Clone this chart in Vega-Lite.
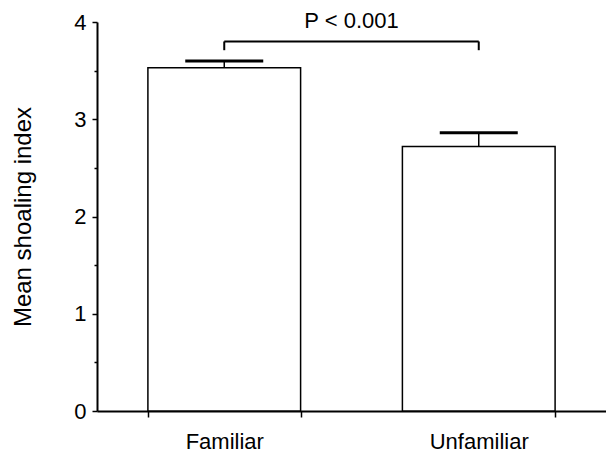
{
  "$schema": "https://vega.github.io/schema/vega-lite/v6.json",
  "width": 509,
  "height": 389,
  "autosize": {"type": "none"},
  "padding": {"left": 97, "top": 22, "right": 0, "bottom": 44},
  "background": "white",
  "config": {
    "view": {"stroke": null},
    "font": "Liberation Sans",
    "axis": {"grid": false, "domainColor": "black", "tickColor": "black", "labelColor": "black", "titleColor": "black", "labelFont": "Liberation Sans", "titleFont": "Liberation Sans"}
  },
  "title": {"text": "P < 0.001", "fontSize": 22, "fontWeight": "normal", "font": "Liberation Sans", "color": "black", "offset": -22, "anchor": "middle", "frame": "group"},
  "datasets": {
    "bars": [
      {"group": "Familiar", "mean": 3.53, "upper": 3.60},
      {"group": "Unfamiliar", "mean": 2.72, "upper": 2.86}
    ],
    "bracket": [
      {"from": "Familiar", "to": "Unfamiliar", "top": 3.80}
    ],
    "bracketEnds": [
      {"group": "Familiar", "low": 3.71, "top": 3.80},
      {"group": "Unfamiliar", "low": 3.71, "top": 3.80}
    ]
  },
  "layer": [
    {
      "data": {"name": "bars"},
      "mark": {"type": "bar", "fill": "white", "stroke": "black", "strokeWidth": 1.5},
      "encoding": {
        "x": {"field": "group", "type": "nominal", "scale": {"paddingInner": 0.4, "paddingOuter": 0.2},
              "axis": {"title": null, "tickBand": "extent", "tickSize": 6, "tickWidth": 1.5, "labelPadding": 14, "labelAngle": 0, "labelFontSize": 22, "domainWidth": 2, "orient": "bottom"}},
        "y": {"field": "mean", "type": "quantitative", "scale": {"domain": [0, 4], "nice": false},
              "axis": {"title": "Mean shoaling index", "titleFontSize": 24, "titleFontWeight": "normal", "titlePadding": 38, "values": [0, 1, 2, 3, 4], "tickSize": 5, "tickWidth": 1.5, "labelFontSize": 22, "labelPadding": 6, "domainWidth": 2, "orient": "left"}}
      }
    },
    {
      "data": {"name": "bars"},
      "mark": {"type": "rule", "color": "black", "strokeWidth": 1.5},
      "encoding": {
        "x": {"field": "group", "type": "nominal"},
        "y": {"field": "mean", "type": "quantitative",
              "axis": {"values": [0.5, 1.5, 2.5, 3.5], "labels": false, "domain": false, "tickSize": 3, "tickWidth": 1.5, "title": null, "orient": "left"}},
        "y2": {"field": "upper"}
      }
    },
    {
      "data": {"name": "bars"},
      "mark": {"type": "tick", "size": 78, "thickness": 3, "color": "black", "opacity": 1},
      "encoding": {
        "x": {"field": "group", "type": "nominal"},
        "y": {"field": "upper", "type": "quantitative", "axis": null}
      }
    },
    {
      "data": {"name": "bracket"},
      "mark": {"type": "rule", "color": "black", "strokeWidth": 2},
      "encoding": {
        "x": {"field": "from", "type": "nominal"},
        "x2": {"field": "to"},
        "y": {"field": "top", "type": "quantitative", "axis": null}
      }
    },
    {
      "data": {"name": "bracketEnds"},
      "mark": {"type": "rule", "color": "black", "strokeWidth": 2},
      "encoding": {
        "x": {"field": "group", "type": "nominal"},
        "y": {"field": "low", "type": "quantitative", "axis": null},
        "y2": {"field": "top"}
      }
    }
  ],
  "resolve": {"axis": {"y": "independent"}}
}
